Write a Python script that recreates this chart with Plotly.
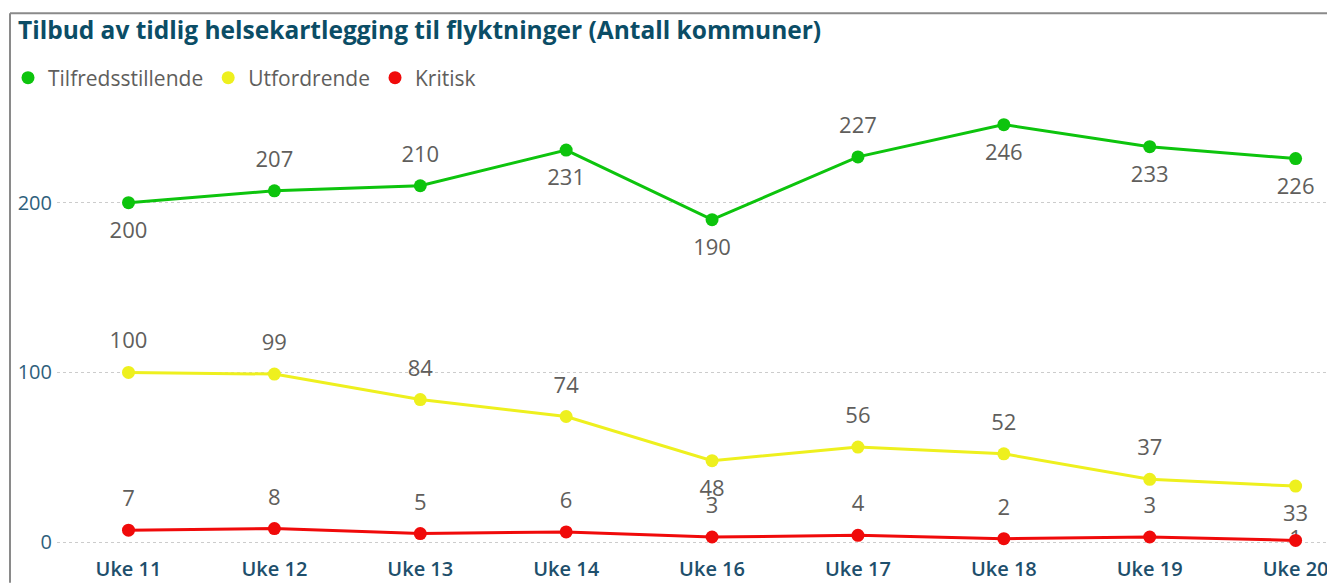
import plotly.graph_objects as go

weeks = ["Uke 11", "Uke 12", "Uke 13", "Uke 14", "Uke 16", "Uke 17", "Uke 18", "Uke 19", "Uke 20"]
tilfreds = [200, 207, 210, 231, 190, 227, 246, 233, 226]
utford = [100, 99, 84, 74, 48, 56, 52, 37, 33]
kritisk = [7, 8, 5, 6, 3, 4, 2, 3, 1]

tilfreds_pos = ["bottom center", "top center", "top center", "bottom center", "bottom center",
                "top center", "bottom center", "bottom center", "bottom center"]
utford_pos = ["top center", "top center", "top center", "top center", "bottom center",
              "top center", "top center", "top center", "bottom center"]
kritisk_pos = ["top center"] * 8 + ["middle center"]

series = [
    ("Tilfredsstillende", tilfreds, tilfreds_pos, "#0DC40D"),
    ("Utfordrende", utford, utford_pos, "#EEF01E"),
    ("Kritisk", kritisk, kritisk_pos, "#F00A0A"),
]

FONT = "Open Sans, Noto Sans, sans-serif"
# page body has an 8px margin, so the figure is 8px smaller than the window
W, H = 1327, 575
ml, mr, mt, mb = 49, 0, 87, 28

fig = go.Figure()

# data labels (drawn underneath the lines/markers)
for name, vals, pos, col in series:
    sizes = [28 if p != "middle center" else 1 for p in pos]
    fig.add_trace(go.Scatter(
        x=weeks, y=vals, mode="markers+text", text=[str(v) for v in vals],
        textposition=pos, marker=dict(size=sizes, opacity=0),
        textfont=dict(family=FONT, size=22, color="#605E5C"),
        showlegend=False, hoverinfo="skip", cliponaxis=False,
    ))

for name, vals, pos, col in series:
    fig.add_trace(go.Scatter(
        x=weeks, y=vals, mode="lines", line=dict(color=col, width=3),
        showlegend=False, hoverinfo="skip", cliponaxis=False,
    ))
    fig.add_trace(go.Scatter(
        x=weeks, y=vals, mode="markers", name=name,
        marker=dict(color=col, size=13), cliponaxis=False,
    ))

ph = H - mt - mb
pw = W - ml - mr
fig.update_layout(
    width=W, height=H,
    margin=dict(l=ml, r=mr, t=mt, b=mb),
    paper_bgcolor="white", plot_bgcolor="white",
    title=dict(
        text="<b>Tilbud av tidlig helsekartlegging til flyktninger (Antall kommuner)</b>",
        x=10 / W, xanchor="left", xref="container",
        y=1 - 22 / H, yanchor="middle", yref="container",
        font=dict(family=FONT, size=24.5, color="#0B4D66"),
    ),
    legend=dict(
        orientation="h", xref="container", yref="container",
        x=0.0, xanchor="left", y=1 - 70 / H, yanchor="middle",
        font=dict(family=FONT, size=21, color="#605E5C"),
        itemwidth=30, tracegroupgap=0, bgcolor="rgba(0,0,0,0)",
    ),
    xaxis=dict(
        type="category", range=[-0.49, 8.27],
        showgrid=False, zeroline=False, showline=False, ticks="",
        tickfont=dict(family=FONT, size=20, color="#1E4F6C", weight=600),
        ticklabelstandoff=0,
    ),
    yaxis=dict(
        range=[-7.6, 261.4], tickvals=[0, 100, 200],
        showgrid=True, gridcolor="#CCCCCC", griddash="dot", gridwidth=1,
        zeroline=False, showline=False, ticks="",
        tickfont=dict(family=FONT, size=20, color="#2F5F7C"),
        ticklabelstandoff=4,
    ),
    shapes=[
        dict(type="line", xref="paper", yref="paper",
             x0=(2 - ml) / pw, x1=1.0,
             y0=1 + (mt - 1) / ph, y1=1 + (mt - 1) / ph,
             line=dict(color="#8A8A8A", width=2)),
        dict(type="line", xref="paper", yref="paper",
             x0=(2 - ml) / pw, x1=(2 - ml) / pw,
             y0=-mb / ph, y1=1 + (mt - 1) / ph,
             line=dict(color="#8A8A8A", width=2)),
    ],
)

fig.write_html("out.html")
